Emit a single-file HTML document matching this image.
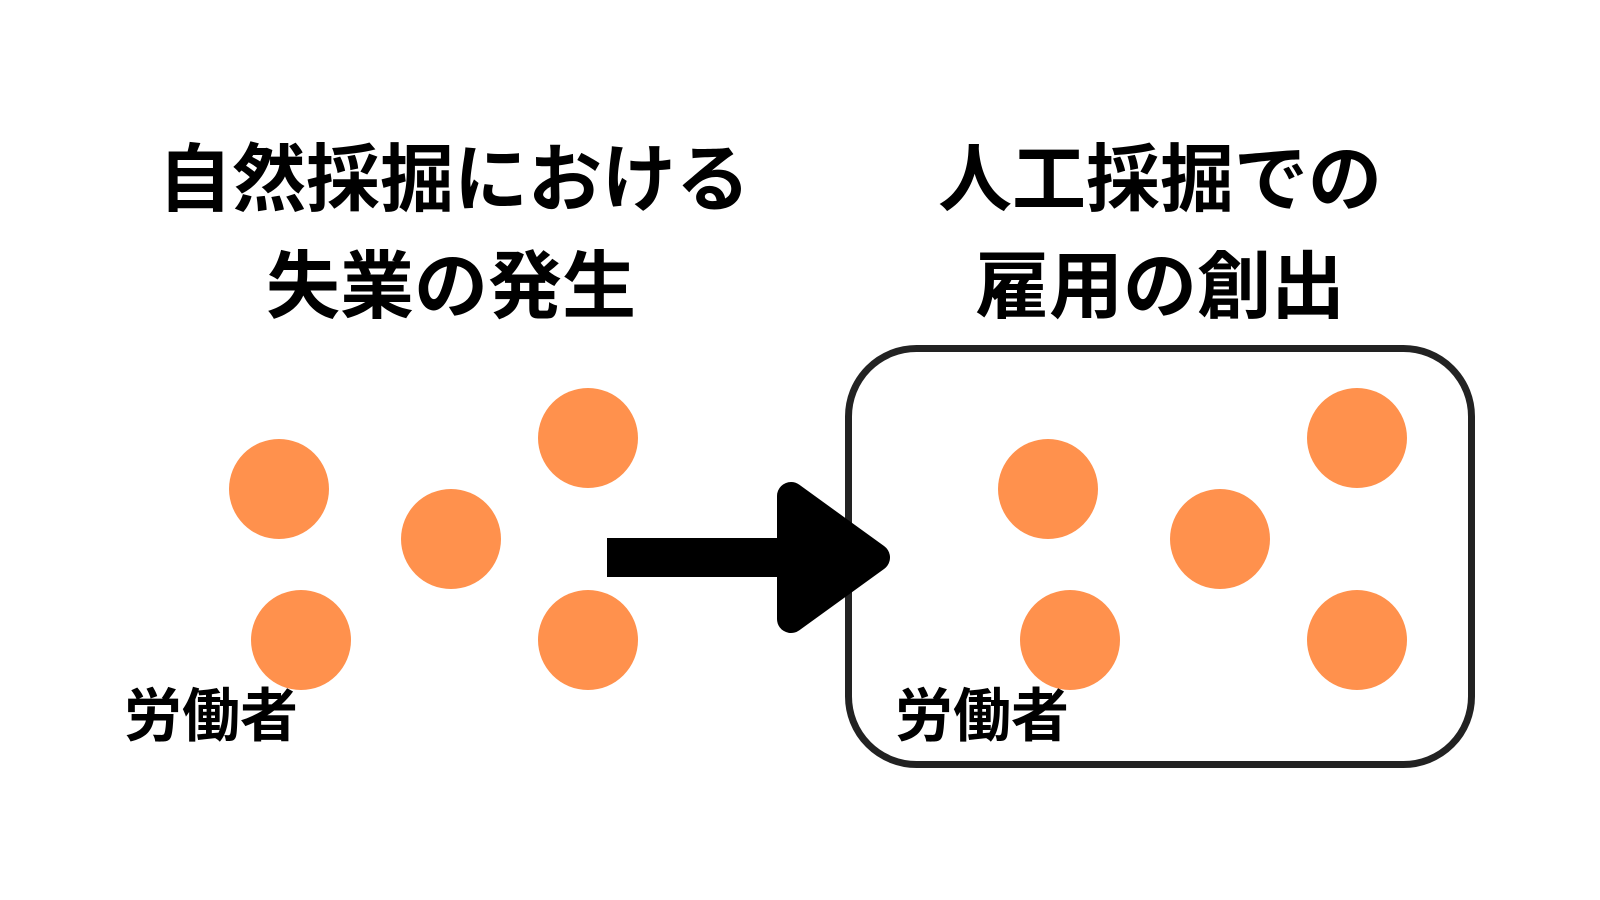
<!DOCTYPE html>
<html>
<head>
<meta charset="utf-8">
<style>
  html, body { margin: 0; padding: 0; background: #ffffff; }
  body { width: 1600px; height: 900px; overflow: hidden; }
  svg { display: block; }
  text { font-family: "Liberation Sans", "Noto Sans CJK JP", sans-serif; font-weight: 700; fill: #000; }
</style>
</head>
<body>
<svg width="1600" height="900" viewBox="0 0 1600 900" xmlns="http://www.w3.org/2000/svg">
  <rect x="0" y="0" width="1600" height="900" fill="#ffffff"/>

  <!-- Titles -->
  <text x="454" y="205" font-size="74" text-anchor="middle">自然採掘における</text>
  <text x="451" y="312" font-size="74" text-anchor="middle">失業の発生</text>
  <text x="1160" y="205" font-size="74" text-anchor="middle">人工採掘での</text>
  <text x="1160" y="312" font-size="74" text-anchor="middle">雇用の創出</text>

  <!-- Right rounded box -->
  <rect x="848.5" y="348.5" width="623" height="416" rx="68" ry="68" fill="none" stroke="#222222" stroke-width="7"/>

  <!-- Left circles -->
  <g fill="#FF914D">
    <circle cx="279" cy="489" r="50"/>
    <circle cx="451" cy="539" r="50"/>
    <circle cx="588" cy="438" r="50"/>
    <circle cx="301" cy="640" r="50"/>
    <circle cx="588" cy="640" r="50"/>
  </g>

  <!-- Right circles -->
  <g fill="#FF914D">
    <circle cx="1048" cy="489" r="50"/>
    <circle cx="1220" cy="539" r="50"/>
    <circle cx="1357" cy="438" r="50"/>
    <circle cx="1070" cy="640" r="50"/>
    <circle cx="1357" cy="640" r="50"/>
  </g>

  <!-- Arrow -->
  <rect x="607" y="538" width="195" height="39" fill="#000"/>
  <polygon points="791,496 876,557.5 791,619" fill="#000" stroke="#000" stroke-width="28" stroke-linejoin="round"/>

  <!-- Labels -->
  <text x="124" y="736" font-size="58">労働者</text>
  <text x="895" y="736" font-size="58">労働者</text>
</svg>
</body>
</html>
